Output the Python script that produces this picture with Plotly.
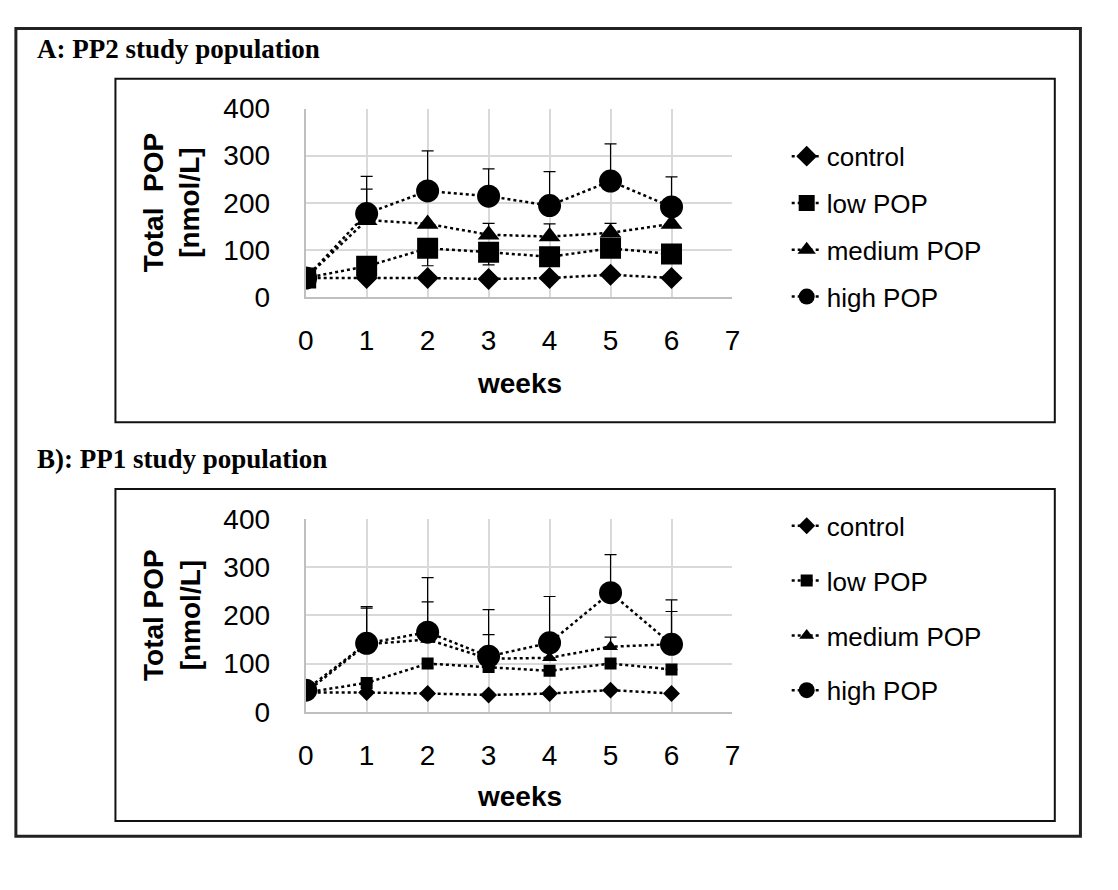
import plotly.graph_objects as go

W, H = 1118, 890

weeks = [0, 1, 2, 3, 4, 5, 6]
groups = ['control', 'low POP', 'medium POP', 'high POP']

# panel A: PP2 study population (nmol/L)
a_control = [40, 40, 40, 38, 40, 47, 40]
a_low = [40, 65, 103, 95, 85, 103, 91]
a_medium = [40, 163, 155, 132, 128, 136, 155]
a_high = [40, 177, 225, 214, 194, 246, 191]
a_low_err_minus = [0, 0, 37, 27, 0, 0, 0]
a_medium_err = [0, 66, 0, 24, 27, 20, 0]
a_high_err = [0, 79, 85, 58, 72, 79, 64]

# panel B: PP1 study population (nmol/L)
b_control = [40, 40, 38, 35, 38, 45, 38]
b_low = [40, 60, 100, 93, 85, 100, 88]
b_medium = [40, 140, 150, 110, 112, 135, 140]
b_high = [45, 142, 165, 115, 143, 247, 140]
b_medium_err = [0, 75, 78, 50, 0, 20, 68]
b_high_err = [0, 76, 113, 97, 96, 79, 92]

SYMBOLS = ['diamond', 'square', 'triangle-up', 'circle']
SIZES_A = [17, 21, 19, 23]
SIZES_B = [13, 12, 13, 23]
SANS = 'Liberation Sans, Arial, sans-serif'
SERIF = 'Liberation Serif, Times New Roman, serif'
GRID = '#d9d9d9'


def px(x):
    return x / W


def py(y):
    return 1 - y / H


def err(plus=None, minus=None):
    n = len(weeks)
    return dict(type='data', symmetric=False,
                array=plus if plus is not None else [0] * n,
                arrayminus=minus if minus is not None else [0] * n,
                color='black', thickness=1.2, width=6)


fig = go.Figure()

panel_a = [(a_control, None, None), (a_low, None, a_low_err_minus),
           (a_medium, a_medium_err, None), (a_high, a_high_err, None)]
panel_b = [(b_control, None, None), (b_low, None, None),
           (b_medium, b_medium_err, None), (b_high, b_high_err, None)]

for i, (vals, plus, minus) in enumerate(panel_a):
    fig.add_trace(go.Scatter(
        x=weeks, y=vals, name=groups[i], mode='lines+markers',
        line=dict(color='black', width=2.5, dash='dot'),
        marker=dict(symbol=SYMBOLS[i], size=SIZES_A[i], color='black'),
        error_y=err(plus, minus), xaxis='x', yaxis='y',
        legend='legend', legendgroup='a%d' % i))

for i, (vals, plus, minus) in enumerate(panel_b):
    fig.add_trace(go.Scatter(
        x=weeks, y=vals, name=groups[i], mode='lines+markers',
        line=dict(color='black', width=2.5, dash='dot'),
        marker=dict(symbol=SYMBOLS[i], size=SIZES_B[i], color='black'),
        error_y=err(plus, minus), xaxis='x2', yaxis='y2',
        legend='legend2', legendgroup='b%d' % i))

# plot areas in pixels
A_X0, A_X1, A_Y0, A_Y1 = 302, 735, 97, 292
B_X0, B_X1, B_Y0, B_Y1 = 302, 735, 522, 722

xax = dict(range=[0, 7], dtick=1, showgrid=True, gridcolor=GRID, gridwidth=2,
           showline=True, linecolor='#bfbfbf', linewidth=2, zeroline=False,
           tickfont=dict(family=SANS, size=28, color='black'),
           ticklabelstandoff=18, fixedrange=True)
yax = dict(range=[0, 400], dtick=100, showgrid=True, gridcolor=GRID, gridwidth=2,
           showline=True, linecolor='#bfbfbf', linewidth=2, zeroline=False,
           tickfont=dict(family=SANS, size=28, color='black'),
           ticklabelstandoff=28, fixedrange=True)

legend_style = dict(font=dict(family=SANS, size=26, color='black'),
                    bgcolor='rgba(0,0,0,0)',
                    xanchor='left', yanchor='top', itemsizing='trace')

fig.update_layout(
    width=W, height=H, autosize=False,
    margin=dict(l=0, r=0, t=0, b=0),
    paper_bgcolor='white', plot_bgcolor='white',
    showlegend=True,
    xaxis=dict(xax, domain=[px(A_X0), px(A_X1)], anchor='y'),
    yaxis=dict(yax, domain=[py(A_Y1), py(A_Y0)], anchor='x'),
    xaxis2=dict(xax, domain=[px(B_X0), px(B_X1)], anchor='y2'),
    yaxis2=dict(yax, domain=[py(B_Y1), py(B_Y0)], anchor='x2'),
    legend=dict(legend_style, x=px(790), y=py(122), tracegroupgap=10),
    legend2=dict(legend_style, x=px(790), y=py(505), tracegroupgap=18),
)

# frames
shapes = [
    dict(type='rect', xref='paper', yref='paper', x0=px(8), x1=px(1088),
         y0=py(851), y1=py(14), line=dict(color='#222', width=3)),
    dict(type='rect', xref='paper', yref='paper', x0=px(109), x1=px(1062),
         y0=py(422), y1=py(66), line=dict(color='#111', width=2)),
    dict(type='rect', xref='paper', yref='paper', x0=px(109), x1=px(1062),
         y0=py(835), y1=py(491), line=dict(color='#111', width=2)),
]
fig.update_layout(shapes=shapes)

bold_serif = dict(family=SERIF, size=27, color='black')
bold_sans = dict(family=SANS, size=28, color='black')
annos = [
    dict(text='<b>A: PP2 study population</b>', x=px(27), y=py(35),
         xanchor='left', yanchor='middle', font=bold_serif),
    dict(text='<b>B): PP1 study population</b>', x=px(27), y=py(460),
         xanchor='left', yanchor='middle', font=bold_serif),
    dict(text='<b>Total \u00a0POP<br>[nmol/L]</b>', x=px(166), y=py((A_Y0 + A_Y1) / 2),
         textangle=-90, xanchor='center', yanchor='middle', font=bold_sans),
    dict(text='<b>Total POP<br>[nmol/L]</b>', x=px(166), y=py((B_Y0 + B_Y1) / 2),
         textangle=-90, xanchor='center', yanchor='middle', font=bold_sans),
    dict(text='<b>weeks</b>', x=px((A_X0 + A_X1) / 2), y=py(A_Y1 + 90),
         xanchor='center', yanchor='middle', font=bold_sans),
    dict(text='<b>weeks</b>', x=px((B_X0 + B_X1) / 2), y=py(B_Y1 + 88),
         xanchor='center', yanchor='middle', font=bold_sans),
]
for a in annos:
    a.update(xref='paper', yref='paper', showarrow=False)
fig.update_layout(annotations=annos)

# drop the default 8px page margin so the figure sits at the window origin
fig.write_html('out.html', config={'displayModeBar': False},
               post_script="document.body.style.margin='0';")
